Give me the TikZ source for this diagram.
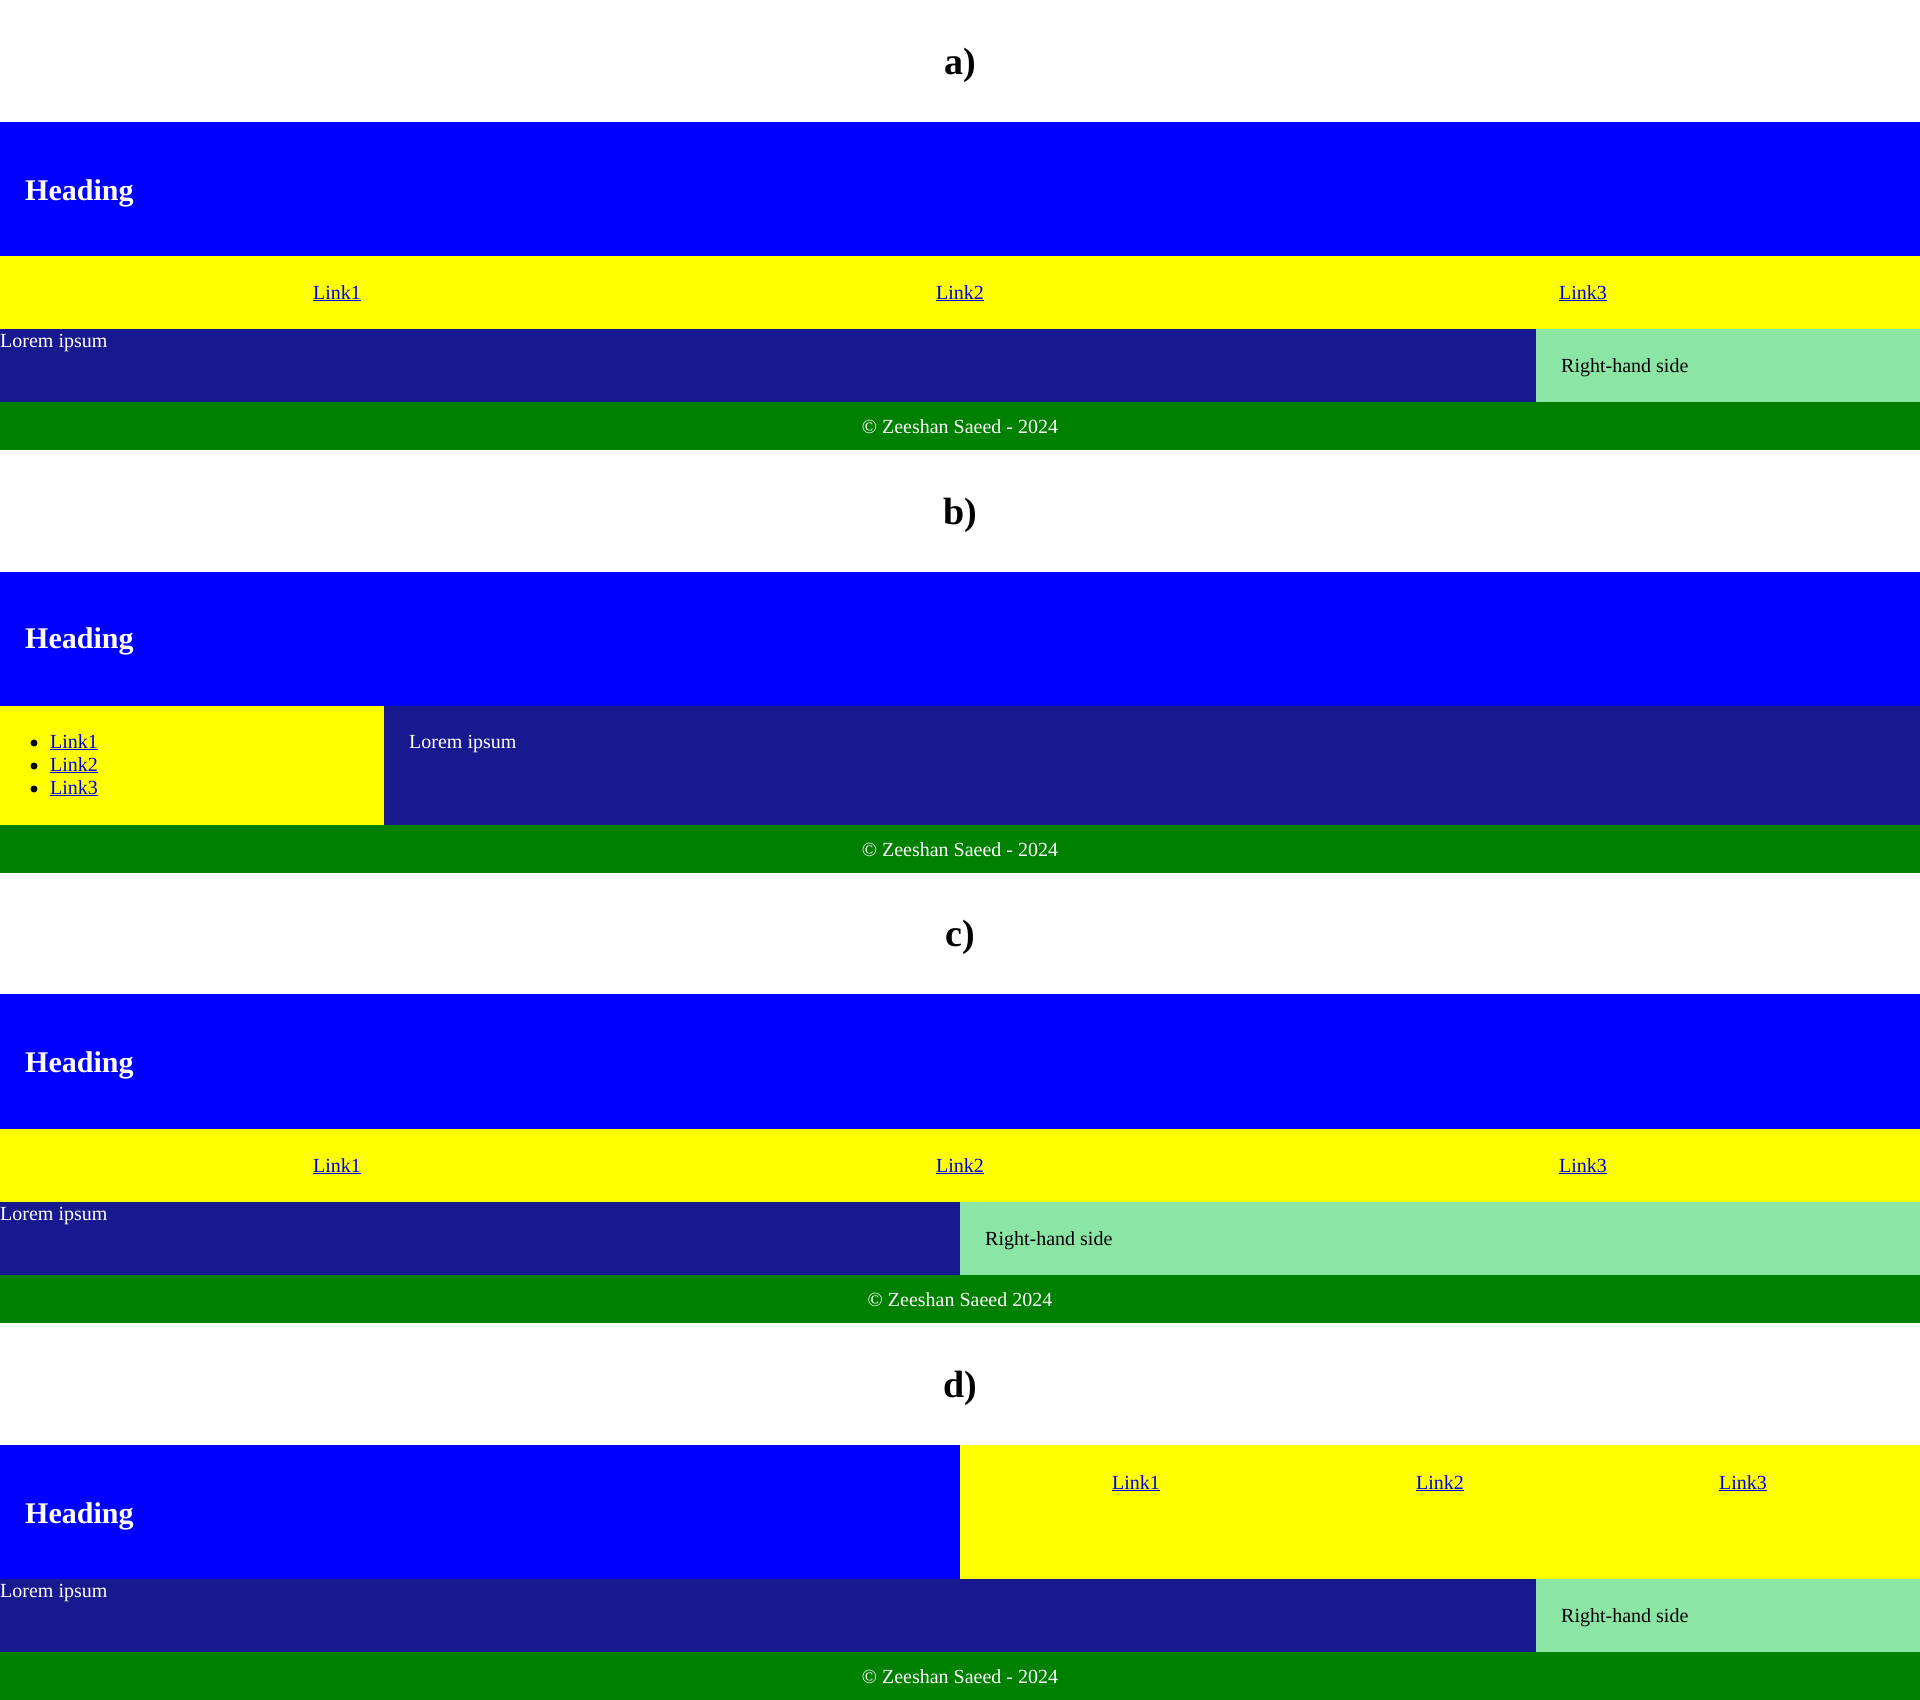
\documentclass[tikz,border=0pt]{standalone}
\usepackage{fontspec}
\setmainfont{Liberation Serif}
\definecolor{hdblue}{RGB}{0,0,255}
\definecolor{navyellow}{RGB}{255,255,0}
\definecolor{mainblue}{RGB}{24,25,143}
\definecolor{sidegreen}{RGB}{139,229,165}
\definecolor{footgreen}{RGB}{0,128,0}
\definecolor{linkblue}{RGB}{0,0,238}
\begin{document}
\begin{tikzpicture}[x=1pt, y=-1pt,
  txt/.style={inner sep=0pt, anchor=base west, font=\fontsize{20}{23}\selectfont},
  lnk/.style={txt, anchor=base, text=linkblue},
  heading/.style={txt, text=white, font=\fontsize{30}{34}\selectfont\bfseries},
  title/.style={inner sep=0pt, anchor=base, font=\fontsize{38}{42}\selectfont\bfseries},
  foot/.style={txt, anchor=base, text=white}]
  \useasboundingbox (0,0) rectangle (1920,1700);
  % a)
  \node[title] (titleA) at (960,74) {a)};
  \fill[hdblue] (0,122) rectangle (1920,256);
  \fill[navyellow] (0,256) rectangle (1920,329);
  \fill[mainblue] (0,329) rectangle (1536,402);
  \fill[sidegreen] (1536,329) rectangle (1920,402);
  \fill[footgreen] (0,402) rectangle (1920,450);
  \node[heading] (headA) at (25,200) {Heading};
  \foreach \x/\n in {337/1,960/2,1583/3}
    \node[lnk] (navA\n) at (\x,299) {\underline{Link\n}};
  \node[txt, text=white] (mainA) at (0,347) {Lorem ipsum};
  \node[txt] (sideA) at (1561,372) {Right-hand side};
  \node[foot] (footA) at (960,433) {© Zeeshan Saeed - 2024};
  % b)
  \node[title] (titleB) at (960,524) {b)};
  \fill[hdblue] (0,572) rectangle (1920,706);
  \fill[navyellow] (0,706) rectangle (384,825);
  \fill[mainblue] (384,706) rectangle (1920,825);
  \fill[footgreen] (0,825) rectangle (1920,873);
  \node[heading] (headB) at (25,648) {Heading};
  \foreach \y/\n in {748/1,771/2,794/3} {
    \fill (34,\y-5) circle (3.5);
    \node[txt, text=linkblue] (navB\n) at (50,\y) {\underline{Link\n}};
  }
  \node[txt, text=white] (mainB) at (409,748) {Lorem ipsum};
  \node[foot] (footB) at (960,856) {© Zeeshan Saeed - 2024};
  % c)
  \node[title] (titleC) at (960,946) {c)};
  \fill[hdblue] (0,994) rectangle (1920,1129);
  \fill[navyellow] (0,1129) rectangle (1920,1202);
  \fill[mainblue] (0,1202) rectangle (960,1275);
  \fill[sidegreen] (960,1202) rectangle (1920,1275);
  \fill[footgreen] (0,1275) rectangle (1920,1323);
  \node[heading] (headC) at (25,1072) {Heading};
  \foreach \x/\n in {337/1,960/2,1583/3}
    \node[lnk] (navC\n) at (\x,1172) {\underline{Link\n}};
  \node[txt, text=white] (mainC) at (0,1220) {Lorem ipsum};
  \node[txt] (sideC) at (985,1245) {Right-hand side};
  \node[foot] (footC) at (960,1306) {© Zeeshan Saeed 2024};
  % d)
  \node[title] (titleD) at (960,1397) {d)};
  \fill[hdblue] (0,1445) rectangle (960,1579);
  \fill[navyellow] (960,1445) rectangle (1920,1579);
  \fill[mainblue] (0,1579) rectangle (1536,1652);
  \fill[sidegreen] (1536,1579) rectangle (1920,1652);
  \fill[footgreen] (0,1652) rectangle (1920,1700);
  \node[heading] (headD) at (25,1523) {Heading};
  \foreach \x/\n in {1136/1,1440/2,1743/3}
    \node[lnk] (navD\n) at (\x,1489) {\underline{Link\n}};
  \node[txt, text=white] (mainD) at (0,1597) {Lorem ipsum};
  \node[txt] (sideD) at (1561,1622) {Right-hand side};
  \node[foot] (footD) at (960,1683) {© Zeeshan Saeed - 2024};
\end{tikzpicture}
\end{document}
